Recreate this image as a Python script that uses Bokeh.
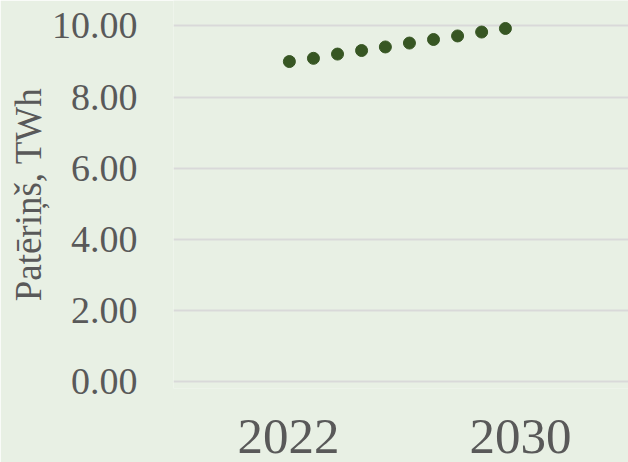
from bokeh.plotting import figure
from bokeh.models import FixedTicker, NumeralTickFormatter, Range1d
from bokeh.embed import file_html
from bokeh.resources import INLINE

# data
years = [2022.03, 2022.86, 2023.69, 2024.52, 2025.34, 2026.17, 2027.00, 2027.83, 2028.66, 2029.48]
consumption = [9.00, 9.09, 9.21, 9.31, 9.41, 9.52, 9.62, 9.72, 9.83, 9.93]
x_ticks = [2022, 2030]
y_ticks = [0, 2, 4, 6, 8, 10]
y_title = "Patēriņš, TWh"

BG = "#E8F0E4"
TXT = "#595959"
FONT = "Liberation Serif"

p = figure(width=628, height=462, output_backend="svg", toolbar_location=None,
           x_range=Range1d(2018.034, 2033.724), y_range=Range1d(-0.197, 10.717),
           min_border_left=173, min_border_right=0, min_border_top=0, min_border_bottom=74)
p.background_fill_color = BG
p.border_fill_color = BG
p.outline_line_color = None

p.scatter(years, consumption, size=12, color="#375623", line_color="#375623")

p.xgrid.visible = False
p.ygrid.ticker = FixedTicker(ticks=y_ticks)
p.ygrid.grid_line_color = "#D9D9D9"
p.ygrid.grid_line_width = 2

for ax in (p.xaxis[0], p.yaxis[0]):
    ax.axis_line_color = None
    ax.major_tick_line_color = None
    ax.minor_tick_line_color = None
    ax.major_tick_out = 0
    ax.major_tick_in = 0
    ax.minor_tick_out = 0
    ax.major_label_text_color = TXT
    ax.major_label_text_font = FONT

p.xaxis.ticker = FixedTicker(ticks=x_ticks)
p.xaxis.formatter = NumeralTickFormatter(format="0")
p.xaxis.major_label_text_font_size = "51px"
p.xaxis.major_label_standoff = 31

p.yaxis.ticker = FixedTicker(ticks=y_ticks)
p.yaxis.formatter = NumeralTickFormatter(format="0.00")
p.yaxis.major_label_text_font_size = "38px"
p.yaxis.major_label_standoff = 36
p.yaxis.axis_label = y_title
p.yaxis.axis_label_text_font = FONT
p.yaxis.axis_label_text_font_size = "37px"
p.yaxis.axis_label_text_font_style = "normal"
p.yaxis.axis_label_text_color = TXT
p.yaxis.axis_label_standoff = 0

open("out.html", "w").write(file_html(p, INLINE))
